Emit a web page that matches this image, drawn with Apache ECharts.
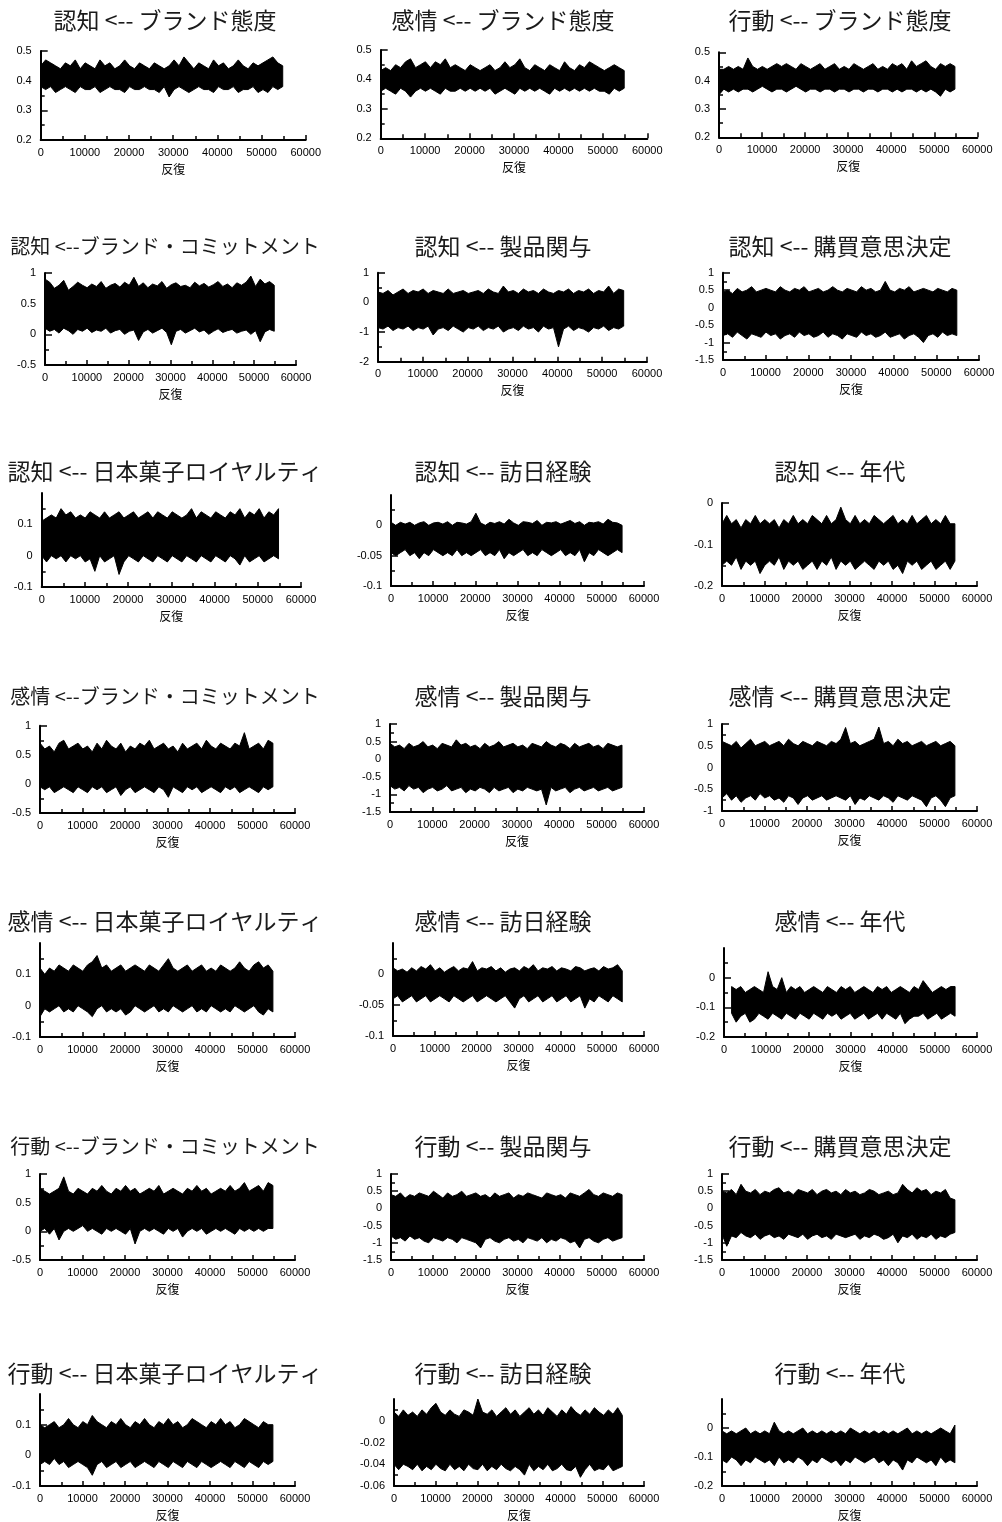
<!DOCTYPE html>
<html><head><meta charset="utf-8">
<script src="https://cdn.jsdelivr.net/npm/echarts@6/dist/echarts.min.js"></script>
<style>html,body{margin:0;padding:0;background:#fff}#c{width:1002px;height:1522px}</style>
</head><body><div id="c"></div>
<script>
// ---------- DATA ----------
const titles = [
  "認知 <-- ブランド態度", "感情 <-- ブランド態度", "行動 <-- ブランド態度",
  "認知 <--ブランド・コミットメント", "認知 <-- 製品関与", "認知 <-- 購買意思決定",
  "認知 <-- 日本菓子ロイヤルティ", "認知 <-- 訪日経験", "認知 <-- 年代",
  "感情 <--ブランド・コミットメント", "感情 <-- 製品関与", "感情 <-- 購買意思決定",
  "感情 <-- 日本菓子ロイヤルティ", "感情 <-- 訪日経験", "感情 <-- 年代",
  "行動 <--ブランド・コミットメント", "行動 <-- 製品関与", "行動 <-- 購買意思決定",
  "行動 <-- 日本菓子ロイヤルティ", "行動 <-- 訪日経験", "行動 <-- 年代"
];
const xAxisName = "反復";
const xTickMin = 0, xTickMax = 60000, xTickStep = 10000;
const yMin  = [0.2,0.2,0.2, -0.5,-2,-1.5, -0.1,-0.1,-0.2, -0.5,-1.5,-1, -0.1,-0.1,-0.2, -0.5,-1.5,-1.5, -0.1,-0.06,-0.2];
const yMax  = [0.5,0.5,0.5, 1,1,1, 0.2,0.05,0, 1,1,1, 0.2,0.05,0.1, 1,1,1, 0.2,0.02,0.1];
const yStep = [0.1,0.1,0.1, 0.5,1,0.5, 0.1,0.05,0.1, 0.5,0.5,0.5, 0.1,0.05,0.1, 0.5,0.5,0.5, 0.1,0.02,0.1];
const hideTop = [false,false,false, false,false,false, true,true,false, false,false,false, true,true,true, false,false,false, true,true,true];
const iterStart = [0,0,0, 0,0,0, 0,0,0, 0,0,0, 0,0,1800, 0,0,0, 0,0,0];
const iterEnd = 54800;

// upper / lower envelope of each trace
const hi01=[.45,.47,.46,.45,.44,.46,.45,.47,.44,.46, .45,.44,.47,.45,.46,.44,.45,.47,.45,.44, .46,.45,.44,.46,.45,.44,.45,.47,.45,.48, .46,.44,.46,.45,.44,.47,.45,.46,.44,.45, .47,.45,.44,.46,.45,.46,.47,.48,.46,.45];
const lo01=[.38,.37,.38,.36,.37,.38,.37,.36,.38,.37, .37,.38,.36,.37,.38,.37,.37,.36,.38,.37, .37,.38,.37,.37,.36,.38,.345,.37,.38,.37, .36,.37,.38,.37,.37,.36,.38,.37,.37,.38, .36,.37,.37,.38,.36,.37,.36,.38,.37,.38];
const hi02=[.43,.44,.43,.45,.44,.46,.47,.44,.45,.46, .44,.46,.45,.47,.44,.45,.44,.43,.45,.44, .43,.44,.45,.43,.44,.46,.44,.45,.47,.44, .43,.45,.44,.43,.45,.44,.43,.46,.44,.43, .45,.44,.46,.45,.44,.43,.44,.45,.44,.43];
const lo02=[.36,.37,.36,.35,.37,.36,.34,.36,.37,.36, .37,.36,.35,.37,.36,.36,.37,.36,.37,.36, .37,.36,.37,.35,.36,.37,.36,.35,.37,.36, .37,.36,.37,.36,.35,.37,.36,.37,.36,.37, .36,.37,.36,.37,.36,.36,.35,.37,.36,.37];
const hi03=[.44,.44,.45,.44,.45,.44,.48,.45,.44,.45, .44,.45,.46,.45,.46,.45,.44,.46,.45,.44, .45,.46,.44,.45,.46,.44,.45,.44,.46,.45, .44,.45,.46,.44,.45,.44,.46,.45,.46,.44, .47,.45,.46,.47,.45,.44,.46,.45,.46,.45];
const lo03=[.35,.37,.36,.37,.36,.37,.37,.36,.37,.38, .37,.36,.37,.37,.36,.37,.38,.37,.36,.37, .37,.36,.37,.37,.36,.37,.37,.36,.37,.37, .36,.37,.37,.36,.37,.37,.36,.37,.36,.37, .37,.36,.37,.36,.37,.36,.345,.37,.36,.37];
const hi04=[.9,.85,.75,.8,.88,.72,.78,.85,.8,.76, .82,.78,.86,.75,.8,.83,.77,.85,.8,.93, .78,.84,.76,.82,.79,.86,.75,.81,.84,.78, .8,.76,.85,.79,.83,.77,.81,.86,.78,.82, .76,.84,.8,.85,.95,.78,.9,.82,.86,.8];
const lo04=[.1,.05,.08,.02,.1,.06,0,.08,.05,.1, .03,.07,.05,.1,.02,.06,.08,0,.05,.07, -.1,.04,.08,.02,.06,.1,.03,-.17,.05,.08, .02,.06,.1,.04,.07,0,.05,.09,.03,.06, .08,.02,.05,.07,0,.06,-.12,.04,.08,.05];
const hi05=[.35,.3,.4,.25,.35,.45,.3,.4,.35,.45, .3,.4,.35,.3,.45,.3,.35,.4,.3,.35, .4,.3,.45,.35,.3,.55,.35,.4,.3,.45, .35,.4,.3,.45,.35,.3,.4,.35,.45,.3, .4,.35,.45,.3,.4,.35,.55,.3,.45,.4];
const lo05=[-.85,-.9,-.8,-.95,-.85,-.9,-.8,-.95,-.85,-.9, -.8,-1.1,-.9,-.85,-.95,-.8,-.9,-1.0,-.85,-.9, -.8,-.95,-.85,-.9,-.8,-1.0,-.9,-.85,-.95,-.8, -.9,-.85,-1.0,-.8,-.9,-.85,-1.5,-.9,-.8,-.95, -.85,-.9,-1.0,-.85,-.9,-.8,-.95,-.85,-.9,-.8];
const hi06=[.45,.5,.4,.55,.45,.5,.6,.45,.5,.55, .5,.45,.6,.5,.45,.55,.5,.6,.45,.5, .55,.45,.5,.6,.5,.45,.55,.5,.45,.6, .5,.55,.45,.5,.75,.5,.45,.55,.5,.6, .45,.5,.55,.5,.45,.55,.5,.45,.55,.5];
const lo06=[-.8,-.75,-.85,-.7,-.8,-.9,-.75,-.8,-.85,-.7, -.8,-.75,-.9,-.8,-.75,-.85,-.7,-.8,-.75,-.85, -.8,-.7,-.85,-.75,-.8,-.9,-.75,-.8,-.85,-.7, -.8,-.75,-.85,-.8,-.7,-.85,-.8,-.75,-.9,-.8, -.75,-.85,-1.0,-.8,-.75,-.85,-.7,-.8,-.75,-.8];
const hi07=[.11,.12,.13,.12,.15,.13,.14,.12,.13,.12, .14,.13,.12,.14,.12,.13,.14,.12,.13,.14, .12,.13,.14,.12,.14,.13,.12,.14,.13,.12, .13,.15,.12,.14,.13,.12,.14,.13,.12,.14, .13,.15,.12,.14,.13,.15,.12,.14,.13,.15];
const lo07=[0,-.02,0,-.01,0,-.02,0,-.01,0,-.02, -.01,-.05,0,-.02,-.01,0,-.06,-.02,0,-.01, -.02,0,-.01,-.02,0,-.01,-.02,0,-.01,-.02, 0,-.01,-.02,0,-.01,-.02,0,-.01,-.02,0, -.01,-.03,0,-.02,-.01,0,-.02,-.01,0,-.01];
const hi08=[.005,0,.005,.002,.005,0,.004,.006,0,.004, .005,.002,.006,0,.005,.004,.002,.006,.02,.004, 0,.005,.003,.006,.002,.01,.004,0,.006,.005, .003,.008,0,.005,.004,.006,.002,.005,.008,.003, .006,0,.005,.004,.006,.002,.01,.005,.004,0];
const lo08=[-.045,-.05,-.045,-.04,-.05,-.045,-.055,-.045,-.05,-.04, -.045,-.05,-.045,-.05,-.04,-.05,-.045,-.05,-.045,-.04, -.05,-.045,-.05,-.04,-.055,-.045,-.05,-.045,-.04,-.05, -.045,-.05,-.04,-.045,-.05,-.045,-.04,-.05,-.045,-.05, -.04,-.06,-.045,-.05,-.04,-.045,-.05,-.045,-.04,-.045];
const hi09=[-.05,-.03,-.05,-.04,-.06,-.04,-.05,-.03,-.05,-.04, -.05,-.04,-.06,-.04,-.05,-.03,-.05,-.04,-.05,-.03, -.04,-.05,-.03,-.05,-.04,-.01,-.04,-.05,-.03,-.05, -.04,-.05,-.03,-.04,-.05,-.04,-.03,-.05,-.04,-.05, -.03,-.05,-.04,-.03,-.05,-.04,-.05,-.03,-.05,-.05];
const lo09=[-.15,-.14,-.15,-.13,-.16,-.14,-.15,-.14,-.17,-.15, -.14,-.15,-.13,-.16,-.14,-.15,-.14,-.16,-.15,-.14, -.16,-.14,-.15,-.13,-.16,-.14,-.15,-.14,-.16,-.15, -.14,-.15,-.16,-.14,-.15,-.14,-.16,-.15,-.17,-.14, -.15,-.14,-.16,-.15,-.14,-.16,-.15,-.14,-.16,-.14];
const hi10=[.7,.6,.65,.55,.7,.75,.6,.65,.7,.6, .65,.55,.7,.6,.75,.65,.6,.7,.55,.65, .6,.7,.65,.75,.6,.65,.7,.6,.65,.55, .7,.6,.65,.7,.6,.75,.65,.6,.7,.65, .6,.7,.65,.88,.6,.65,.7,.6,.75,.7];
const lo10=[-.05,-.1,-.05,-.15,-.1,-.05,-.1,-.15,-.05,-.1, -.15,-.05,-.1,-.05,-.15,-.1,-.05,-.2,-.1,-.05, -.15,-.1,-.05,-.1,-.15,-.05,-.1,-.23,-.05,-.1, -.15,-.05,-.1,-.05,-.15,-.1,-.05,-.1,-.15,-.05, -.1,-.05,-.15,-.1,-.05,-.1,-.15,-.05,-.1,-.05];
const hi11=[.45,.35,.4,.3,.45,.35,.4,.5,.35,.4, .3,.45,.4,.35,.55,.4,.45,.35,.4,.3, .45,.35,.4,.5,.35,.4,.45,.35,.4,.3, .45,.4,.35,.5,.4,.35,.45,.4,.3,.45, .35,.4,.45,.35,.4,.3,.45,.4,.35,.4];
const lo11=[-.75,-.85,-.8,-.9,-.75,-.85,-.8,-.95,-.85,-.8, -.9,-.85,-.75,-.9,-.85,-.8,-.95,-.85,-.9,-.8, -.85,-.95,-.8,-.9,-.85,-.8,-.95,-.85,-.9,-.8, -.85,-.9,-.85,-1.3,-.8,-.9,-.85,-.8,-.95,-.85, -.8,-.9,-.85,-.8,-.9,-.85,-.8,-.9,-.85,-.8];
const hi12=[.6,.55,.5,.6,.45,.55,.65,.5,.55,.6, .5,.55,.6,.5,.65,.55,.5,.6,.55,.5, .6,.55,.5,.6,.55,.65,.92,.55,.6,.5, .55,.6,.65,.93,.55,.6,.5,.65,.55,.6, .5,.55,.6,.5,.55,.6,.5,.55,.6,.5];
const lo12=[-.7,-.6,-.75,-.65,-.8,-.7,-.65,-.75,-.6,-.7, -.65,-.75,-.7,-.8,-.65,-.7,-.85,-.7,-.65,-.75, -.7,-.65,-.75,-.7,-.65,-.7,-.75,-.65,-.85,-.7, -.75,-.65,-.7,-.75,-.65,-.7,-.8,-.65,-.7,-.75, -.65,-.7,-.75,-.9,-.7,-.65,-.75,-.9,-.7,-.65];
const hi13=[.12,.1,.12,.11,.13,.12,.11,.13,.12,.11, .13,.14,.16,.12,.13,.11,.12,.13,.11,.12, .13,.12,.11,.13,.12,.11,.13,.15,.12,.11, .12,.13,.11,.12,.13,.11,.12,.11,.13,.12, .11,.12,.14,.12,.11,.13,.14,.12,.13,.11];
const lo13=[-.035,-.01,-.02,-.01,0,-.02,-.01,-.02,0,-.01, -.02,-.035,-.01,0,-.02,-.01,-.02,-.01,-.03,-.02, 0,-.01,-.02,-.01,0,-.02,-.01,-.02,0,-.01, -.02,-.01,0,-.02,-.01,-.02,0,-.01,-.02,-.01, -.02,0,-.01,-.02,-.01,0,-.02,-.03,-.01,-.02];
const hi14=[.01,.005,.008,.003,.01,.005,.012,.008,.015,.005, .01,.003,.008,.012,.005,.01,.008,.02,.005,.01, .008,.012,.005,.01,.003,.008,.01,.005,.012,.008, .015,.005,.01,.008,.012,.005,.01,.008,.005,.012, .01,.005,.008,.01,.005,.012,.008,.01,.015,.005];
const lo14=[-.04,-.035,-.045,-.04,-.035,-.045,-.04,-.035,-.045,-.04, -.035,-.04,-.045,-.035,-.04,-.045,-.04,-.035,-.045,-.04, -.035,-.04,-.045,-.04,-.035,-.045,-.055,-.04,-.035,-.045, -.04,-.035,-.045,-.04,-.035,-.045,-.04,-.035,-.045,-.04, -.035,-.055,-.04,-.045,-.035,-.04,-.045,-.035,-.04,-.045];
const hi15=[-.03,-.04,-.03,-.05,-.04,-.03,-.04,-.05,.02,-.03, -.04,0,-.05,-.03,-.04,-.03,-.05,-.04,-.03,-.04, -.05,-.03,-.04,-.05,-.03,-.04,-.03,-.05,-.04,-.03, -.04,-.05,-.03,-.04,-.03,-.05,-.04,-.03,-.04,-.05, -.03,-.04,-.01,-.03,-.05,-.04,-.03,-.04,-.03,-.03];
const lo15=[-.12,-.15,-.13,-.12,-.15,-.14,-.12,-.13,-.14,-.12, -.13,-.14,-.12,-.13,-.14,-.12,-.13,-.14,-.12,-.13, -.14,-.12,-.13,-.12,-.14,-.13,-.12,-.14,-.13,-.12, -.14,-.13,-.12,-.14,-.12,-.13,-.14,-.12,-.155,-.14, -.13,-.13,-.12,-.14,-.13,-.12,-.14,-.13,-.12,-.13];
const hi16=[.75,.7,.65,.7,.75,.95,.7,.65,.75,.7, .65,.75,.7,.8,.7,.65,.75,.7,.8,.7, .75,.65,.7,.75,.7,.8,.65,.7,.75,.7, .65,.75,.7,.8,.7,.75,.65,.7,.75,.7, .8,.7,.75,.85,.7,.75,.8,.7,.85,.8];
const lo16=[0,.05,-.05,.05,-.15,0,.05,0,.05,.1, 0,.05,0,-.05,.05,0,.05,0,-.05,.05, -.22,0,.05,0,.05,0,-.05,.05,0,.05, -.1,0,.05,0,.05,-.05,0,.05,0,.05, 0,-.05,.05,0,.05,0,.05,0,.05,.05];
const hi17=[.4,.35,.45,.3,.4,.35,.45,.4,.35,.5, .4,.3,.45,.35,.4,.5,.35,.4,.45,.35, .4,.3,.45,.35,.4,.45,.3,.4,.35,.45, .4,.35,.3,.45,.4,.35,.4,.3,.45,.4, .35,.45,.55,.4,.35,.45,.4,.35,.45,.4];
const lo17=[-.8,-.9,-.85,-.95,-.8,-.9,-.85,-.95,-1.0,-.85, -.9,-.95,-.85,-.9,-1.0,-.85,-.9,-.95,-1.0,-1.15, -.9,-.85,-.95,-1.0,-.9,-.85,-.95,-.9,-1.0,-.85, -.9,-.95,-.85,-1.0,-.9,-.95,-.85,-.9,-1.0,-.95, -1.15,-.9,-.85,-.95,-1.0,-.9,-.85,-.95,-.9,-.85];
const hi18=[.5,.45,.55,.4,.7,.5,.45,.55,.4,.5, .45,.55,.6,.45,.5,.4,.55,.5,.45,.55, .4,.5,.55,.45,.5,.4,.55,.45,.5,.4, .45,.55,.5,.4,.45,.5,.4,.45,.7,.55, .45,.6,.5,.55,.4,.5,.45,.55,.3,.25];
const lo18=[-.75,-1.1,-.8,-.85,-.7,-.8,-.85,-.75,-.9,-.8, -.75,-.85,-.8,-.9,-.75,-.8,-.85,-.75,-.9,-.8, -.75,-.85,-.8,-.9,-.75,-.8,-.85,-.8,-.75,-.9, -.8,-.85,-.75,-.8,-.9,-.85,-.75,-1.0,-.8,-.85, -.75,-.9,-.8,-.85,-.75,-.9,-.8,-.85,-.75,-.7];
const hi19=[.1,.09,.1,.11,.09,.1,.12,.1,.09,.11, .1,.13,.11,.1,.09,.11,.1,.12,.1,.09, .11,.1,.12,.1,.09,.11,.1,.12,.1,.11, .09,.1,.12,.11,.1,.09,.11,.1,.12,.1, .11,.09,.1,.12,.11,.1,.09,.11,.1,.1];
const lo19=[-.03,-.02,-.03,-.01,-.03,-.02,-.04,-.03,-.02,-.03, -.04,-.065,-.03,-.02,-.04,-.03,-.02,-.04,-.03,-.02, -.04,-.03,-.02,-.03,-.04,-.02,-.03,-.04,-.02,-.03, -.04,-.02,-.03,-.04,-.02,-.03,-.04,-.03,-.02,-.03, -.04,-.02,-.03,-.04,-.02,-.03,-.04,-.02,-.03,-.02];
const hi20=[.008,.004,.01,.005,.008,.004,.01,.006,.012,.016, .008,.005,.01,.006,.004,.01,.008,.005,.02,.008, .006,.01,.004,.008,.012,.006,.01,.004,.008,.012, .006,.01,.005,.012,.008,.004,.01,.006,.013,.008, .005,.01,.006,.012,.008,.005,.01,.006,.012,.005];
const lo20=[-.04,-.045,-.04,-.042,-.045,-.04,-.046,-.042,-.045,-.04, -.044,-.046,-.04,-.045,-.042,-.046,-.04,-.044,-.045,-.04, -.046,-.042,-.045,-.04,-.044,-.046,-.042,-.045,-.05,-.04, -.046,-.042,-.045,-.04,-.046,-.044,-.04,-.045,-.046,-.042, -.052,-.045,-.04,-.046,-.044,-.045,-.04,-.046,-.044,-.042];
const hi21=[-.01,-.02,-.01,-.02,-.01,0,-.02,-.01,-.02,-.01, -.02,.02,-.01,-.02,-.01,-.02,-.01,0,-.02,-.01, -.02,-.01,-.02,-.01,-.02,-.01,-.02,0,-.01,-.02, -.01,-.02,-.01,-.02,-.01,-.02,-.01,-.02,-.01,0, -.02,-.01,-.02,-.01,-.02,-.01,0,-.01,-.02,.01];
const lo21=[-.11,-.12,-.1,-.11,-.13,-.11,-.12,-.1,-.11,-.12, -.11,-.13,-.1,-.12,-.11,-.12,-.1,-.11,-.13,-.11, -.12,-.1,-.11,-.12,-.11,-.13,-.11,-.12,-.1,-.11, -.12,-.11,-.1,-.12,-.11,-.13,-.11,-.12,-.145,-.11, -.12,-.1,-.11,-.12,-.11,-.13,-.1,-.12,-.11,-.12];

const hiList=[hi01,hi02,hi03,hi04,hi05,hi06,hi07,hi08,hi09,hi10,hi11,hi12,hi13,hi14,hi15,hi16,hi17,hi18,hi19,hi20,hi21];
const loList=[lo01,lo02,lo03,lo04,lo05,lo06,lo07,lo08,lo09,lo10,lo11,lo12,lo13,lo14,lo15,lo16,lo17,lo18,lo19,lo20,lo21];

// ---------- LAYOUT ----------
const gridL=[40.7,380.7,719, 45,378,723, 41.7,391,722, 40,390,722, 40,393,724, 40,391,722, 40,394,722];
const gridR=[305.7,647.3,977.3, 296,647,979, 301,644,977, 295,644,977, 295,644,977, 295,644,977, 295,644,977];
const gridT=[51,50,52.3, 273,272.7,272.7, 493,495,503, 725.7,724,724, 943,943,948, 1174,1174,1174, 1394,1399,1399];
const gridB=[140,138.3,137.3, 365,361.7,360, 587,586,586, 813,812,811, 1037,1036,1037, 1260,1260,1260, 1488,1489,1489];
const titleX=[165,503,840];
const titleY=[20,246.5,471.5,696.5,921.5,1146.5,1373];

const numFont = "'Liberation Sans', Arial, sans-serif";
const jpFont = "'Noto Sans CJK JP', sans-serif";
const r6 = v => Number(v.toFixed(6));

// one filled polygon per trace: upper envelope forward, lower envelope back
function makeRender(xs, hi, lo) {
  return function (params, api) {
    const pts = [];
    for (let i = 0; i < xs.length; i++) pts.push(api.coord([xs[i], hi[i]]));
    for (let i = xs.length - 1; i >= 0; i--) pts.push(api.coord([xs[i], lo[i]]));
    return {type:'polygon', shape:{points:pts},
      style:{fill:'#000', stroke:'#000', lineWidth:1, lineJoin:'miter', miterLimit:4}};
  };
}

const grids=[], xAxes=[], yAxes=[], series=[], graphics=[];
for (let p=0; p<titles.length; p++) {
  const row = Math.floor(p/3), col = p%3;
  grids.push({left:gridL[p], top:gridT[p], width:gridR[p]-gridL[p], height:gridB[p]-gridT[p]});
  xAxes.push({
    gridIndex:p, type:'value', min:xTickMin, max:xTickMax, interval:xTickStep,
    axisLine:{onZero:false, lineStyle:{color:'#000', width:2}},
    axisTick:{inside:true, length:5, lineStyle:{color:'#000', width:1.5}},
    minorTick:{show:true, splitNumber:2, length:4, lineStyle:{color:'#000', width:1.5}},
    splitLine:{show:false},
    axisLabel:{color:'#000', fontSize:11, fontFamily:numFont, margin:7, formatter:v=>String(v)},
    name:xAxisName, nameLocation:'middle', nameGap:23,
    nameTextStyle:{color:'#000', fontSize:12, fontFamily:jpFont}
  });
  const ya = {
    gridIndex:p, type:'value', min:yMin[p], max:yMax[p], interval:yStep[p],
    axisLine:{show:true, onZero:false, lineStyle:{color:'#000', width:2}},
    axisTick:{show:true, inside:true, length:7, lineStyle:{color:'#000', width:1.5}},
    minorTick:{show:true, splitNumber:2, length:4, lineStyle:{color:'#000', width:1.5}},
    splitLine:{show:false},
    axisLabel:{color:'#000', fontSize:11, fontFamily:numFont, margin:9, formatter:v=>String(r6(v))}
  };
  if (hideTop[p]) {
    const vals=[];
    for (let k=0; yMin[p]+k*yStep[p] < yMax[p]-1e-9; k++) vals.push(r6(yMin[p]+k*yStep[p]));
    ya.axisLabel.customValues = vals;
    ya.axisTick.customValues = vals;
  }
  yAxes.push(ya);

  const hi=hiList[p], lo=loList[p], n=lo.length;
  const xs = lo.map((_,i)=> iterStart[p] + i*(iterEnd-iterStart[p])/(n-1));
  series.push({
    type:'custom', coordinateSystem:'cartesian2d', xAxisIndex:p, yAxisIndex:p,
    renderItem:makeRender(xs, hi, lo),
    data:[[xs[0], lo[0]]], silent:true, animation:false
  });

  const long = titles[p].indexOf('コミットメント')>=0;
  graphics.push({type:'text', x:titleX[col], y:titleY[row], silent:true,
    style:{text:titles[p], fill:'#1a1a1a', font:(long?20:23)+'px '+jpFont, align:'center', verticalAlign:'middle'}});
}

const chart = echarts.init(document.getElementById('c'), null, {renderer:'canvas'});
chart.setOption({
  animation:false, backgroundColor:'#fff',
  grid:grids, xAxis:xAxes, yAxis:yAxes, series:series, graphic:graphics
});
</script>
</body></html>
